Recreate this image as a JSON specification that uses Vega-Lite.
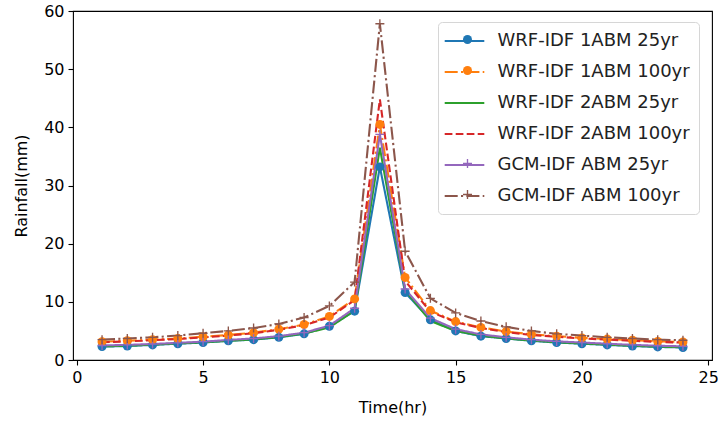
{
  "$schema": "https://vega.github.io/schema/vega-lite/v6.json",
  "width": 639,
  "height": 349,
  "autosize": "none",
  "padding": {"left": 73, "top": 11, "right": 11, "bottom": 63},
  "background": "white",
  "config": {
    "font": "DejaVu Sans",
    "view": {"stroke": "black", "strokeWidth": 1.1},
    "axis": {"domain": false, "grid": false, "tickColor": "black", "tickSize": 5, "tickWidth": 1.1, "labelColor": "black", "labelFontSize": 16, "labelPadding": 4, "titleFontSize": 16, "titleFontWeight": "normal", "titleColor": "black", "labelFont": "DejaVu Sans", "titleFont": "DejaVu Sans"}
  },
  "data": {"values": [
    {"t":1,"s":"WRF-IDF 1ABM 25yr","v":2.3},{"t":2,"s":"WRF-IDF 1ABM 25yr","v":2.4},{"t":3,"s":"WRF-IDF 1ABM 25yr","v":2.6},{"t":4,"s":"WRF-IDF 1ABM 25yr","v":2.8},{"t":5,"s":"WRF-IDF 1ABM 25yr","v":3.0},{"t":6,"s":"WRF-IDF 1ABM 25yr","v":3.3},{"t":7,"s":"WRF-IDF 1ABM 25yr","v":3.5},{"t":8,"s":"WRF-IDF 1ABM 25yr","v":3.9},{"t":9,"s":"WRF-IDF 1ABM 25yr","v":4.5},{"t":10,"s":"WRF-IDF 1ABM 25yr","v":5.8},{"t":11,"s":"WRF-IDF 1ABM 25yr","v":8.4},{"t":12,"s":"WRF-IDF 1ABM 25yr","v":33.2},{"t":13,"s":"WRF-IDF 1ABM 25yr","v":11.6},{"t":14,"s":"WRF-IDF 1ABM 25yr","v":6.9},{"t":15,"s":"WRF-IDF 1ABM 25yr","v":5.0},{"t":16,"s":"WRF-IDF 1ABM 25yr","v":4.1},{"t":17,"s":"WRF-IDF 1ABM 25yr","v":3.7},{"t":18,"s":"WRF-IDF 1ABM 25yr","v":3.3},{"t":19,"s":"WRF-IDF 1ABM 25yr","v":3.0},{"t":20,"s":"WRF-IDF 1ABM 25yr","v":2.8},{"t":21,"s":"WRF-IDF 1ABM 25yr","v":2.6},{"t":22,"s":"WRF-IDF 1ABM 25yr","v":2.4},{"t":23,"s":"WRF-IDF 1ABM 25yr","v":2.25},{"t":24,"s":"WRF-IDF 1ABM 25yr","v":2.15},
    {"t":1,"s":"WRF-IDF 1ABM 100yr","v":3.15},{"t":2,"s":"WRF-IDF 1ABM 100yr","v":3.3},{"t":3,"s":"WRF-IDF 1ABM 100yr","v":3.5},{"t":4,"s":"WRF-IDF 1ABM 100yr","v":3.7},{"t":5,"s":"WRF-IDF 1ABM 100yr","v":4.0},{"t":6,"s":"WRF-IDF 1ABM 100yr","v":4.3},{"t":7,"s":"WRF-IDF 1ABM 100yr","v":4.7},{"t":8,"s":"WRF-IDF 1ABM 100yr","v":5.3},{"t":9,"s":"WRF-IDF 1ABM 100yr","v":6.1},{"t":10,"s":"WRF-IDF 1ABM 100yr","v":7.5},{"t":11,"s":"WRF-IDF 1ABM 100yr","v":10.5},{"t":12,"s":"WRF-IDF 1ABM 100yr","v":40.5},{"t":13,"s":"WRF-IDF 1ABM 100yr","v":14.2},{"t":14,"s":"WRF-IDF 1ABM 100yr","v":8.5},{"t":15,"s":"WRF-IDF 1ABM 100yr","v":6.6},{"t":16,"s":"WRF-IDF 1ABM 100yr","v":5.6},{"t":17,"s":"WRF-IDF 1ABM 100yr","v":4.9},{"t":18,"s":"WRF-IDF 1ABM 100yr","v":4.4},{"t":19,"s":"WRF-IDF 1ABM 100yr","v":4.1},{"t":20,"s":"WRF-IDF 1ABM 100yr","v":3.8},{"t":21,"s":"WRF-IDF 1ABM 100yr","v":3.6},{"t":22,"s":"WRF-IDF 1ABM 100yr","v":3.4},{"t":23,"s":"WRF-IDF 1ABM 100yr","v":3.2},{"t":24,"s":"WRF-IDF 1ABM 100yr","v":3.1},
    {"t":1,"s":"WRF-IDF 2ABM 25yr","v":2.35},{"t":2,"s":"WRF-IDF 2ABM 25yr","v":2.45},{"t":3,"s":"WRF-IDF 2ABM 25yr","v":2.65},{"t":4,"s":"WRF-IDF 2ABM 25yr","v":2.85},{"t":5,"s":"WRF-IDF 2ABM 25yr","v":3.05},{"t":6,"s":"WRF-IDF 2ABM 25yr","v":3.3},{"t":7,"s":"WRF-IDF 2ABM 25yr","v":3.55},{"t":8,"s":"WRF-IDF 2ABM 25yr","v":3.95},{"t":9,"s":"WRF-IDF 2ABM 25yr","v":4.55},{"t":10,"s":"WRF-IDF 2ABM 25yr","v":5.6},{"t":11,"s":"WRF-IDF 2ABM 25yr","v":8.5},{"t":12,"s":"WRF-IDF 2ABM 25yr","v":36.5},{"t":13,"s":"WRF-IDF 2ABM 25yr","v":12.0},{"t":14,"s":"WRF-IDF 2ABM 25yr","v":6.7},{"t":15,"s":"WRF-IDF 2ABM 25yr","v":5.0},{"t":16,"s":"WRF-IDF 2ABM 25yr","v":4.2},{"t":17,"s":"WRF-IDF 2ABM 25yr","v":3.7},{"t":18,"s":"WRF-IDF 2ABM 25yr","v":3.35},{"t":19,"s":"WRF-IDF 2ABM 25yr","v":3.05},{"t":20,"s":"WRF-IDF 2ABM 25yr","v":2.85},{"t":21,"s":"WRF-IDF 2ABM 25yr","v":2.65},{"t":22,"s":"WRF-IDF 2ABM 25yr","v":2.45},{"t":23,"s":"WRF-IDF 2ABM 25yr","v":2.3},{"t":24,"s":"WRF-IDF 2ABM 25yr","v":2.2},
    {"t":1,"s":"WRF-IDF 2ABM 100yr","v":3.05},{"t":2,"s":"WRF-IDF 2ABM 100yr","v":3.2},{"t":3,"s":"WRF-IDF 2ABM 100yr","v":3.4},{"t":4,"s":"WRF-IDF 2ABM 100yr","v":3.6},{"t":5,"s":"WRF-IDF 2ABM 100yr","v":3.9},{"t":6,"s":"WRF-IDF 2ABM 100yr","v":4.2},{"t":7,"s":"WRF-IDF 2ABM 100yr","v":4.6},{"t":8,"s":"WRF-IDF 2ABM 100yr","v":5.2},{"t":9,"s":"WRF-IDF 2ABM 100yr","v":6.0},{"t":10,"s":"WRF-IDF 2ABM 100yr","v":7.3},{"t":11,"s":"WRF-IDF 2ABM 100yr","v":10.3},{"t":12,"s":"WRF-IDF 2ABM 100yr","v":44.8},{"t":13,"s":"WRF-IDF 2ABM 100yr","v":13.6},{"t":14,"s":"WRF-IDF 2ABM 100yr","v":8.3},{"t":15,"s":"WRF-IDF 2ABM 100yr","v":6.5},{"t":16,"s":"WRF-IDF 2ABM 100yr","v":5.5},{"t":17,"s":"WRF-IDF 2ABM 100yr","v":4.8},{"t":18,"s":"WRF-IDF 2ABM 100yr","v":4.3},{"t":19,"s":"WRF-IDF 2ABM 100yr","v":4.0},{"t":20,"s":"WRF-IDF 2ABM 100yr","v":3.7},{"t":21,"s":"WRF-IDF 2ABM 100yr","v":3.5},{"t":22,"s":"WRF-IDF 2ABM 100yr","v":3.3},{"t":23,"s":"WRF-IDF 2ABM 100yr","v":3.1},{"t":24,"s":"WRF-IDF 2ABM 100yr","v":3.0},
    {"t":1,"s":"GCM-IDF ABM 25yr","v":2.5},{"t":2,"s":"GCM-IDF ABM 25yr","v":2.6},{"t":3,"s":"GCM-IDF ABM 25yr","v":2.75},{"t":4,"s":"GCM-IDF ABM 25yr","v":2.95},{"t":5,"s":"GCM-IDF ABM 25yr","v":3.15},{"t":6,"s":"GCM-IDF ABM 25yr","v":3.45},{"t":7,"s":"GCM-IDF ABM 25yr","v":3.7},{"t":8,"s":"GCM-IDF ABM 25yr","v":4.1},{"t":9,"s":"GCM-IDF ABM 25yr","v":4.7},{"t":10,"s":"GCM-IDF ABM 25yr","v":5.9},{"t":11,"s":"GCM-IDF ABM 25yr","v":8.9},{"t":12,"s":"GCM-IDF ABM 25yr","v":38.8},{"t":13,"s":"GCM-IDF ABM 25yr","v":12.2},{"t":14,"s":"GCM-IDF ABM 25yr","v":7.2},{"t":15,"s":"GCM-IDF ABM 25yr","v":5.3},{"t":16,"s":"GCM-IDF ABM 25yr","v":4.4},{"t":17,"s":"GCM-IDF ABM 25yr","v":3.9},{"t":18,"s":"GCM-IDF ABM 25yr","v":3.5},{"t":19,"s":"GCM-IDF ABM 25yr","v":3.2},{"t":20,"s":"GCM-IDF ABM 25yr","v":3.0},{"t":21,"s":"GCM-IDF ABM 25yr","v":2.8},{"t":22,"s":"GCM-IDF ABM 25yr","v":2.6},{"t":23,"s":"GCM-IDF ABM 25yr","v":2.45},{"t":24,"s":"GCM-IDF ABM 25yr","v":2.35},
    {"t":1,"s":"GCM-IDF ABM 100yr","v":3.5},{"t":2,"s":"GCM-IDF ABM 100yr","v":3.7},{"t":3,"s":"GCM-IDF ABM 100yr","v":3.9},{"t":4,"s":"GCM-IDF ABM 100yr","v":4.2},{"t":5,"s":"GCM-IDF ABM 100yr","v":4.6},{"t":6,"s":"GCM-IDF ABM 100yr","v":5.0},{"t":7,"s":"GCM-IDF ABM 100yr","v":5.5},{"t":8,"s":"GCM-IDF ABM 100yr","v":6.2},{"t":9,"s":"GCM-IDF ABM 100yr","v":7.3},{"t":10,"s":"GCM-IDF ABM 100yr","v":9.3},{"t":11,"s":"GCM-IDF ABM 100yr","v":13.4},{"t":12,"s":"GCM-IDF ABM 100yr","v":57.8},{"t":13,"s":"GCM-IDF ABM 100yr","v":18.7},{"t":14,"s":"GCM-IDF ABM 100yr","v":10.6},{"t":15,"s":"GCM-IDF ABM 100yr","v":8.1},{"t":16,"s":"GCM-IDF ABM 100yr","v":6.7},{"t":17,"s":"GCM-IDF ABM 100yr","v":5.7},{"t":18,"s":"GCM-IDF ABM 100yr","v":5.0},{"t":19,"s":"GCM-IDF ABM 100yr","v":4.5},{"t":20,"s":"GCM-IDF ABM 100yr","v":4.2},{"t":21,"s":"GCM-IDF ABM 100yr","v":3.9},{"t":22,"s":"GCM-IDF ABM 100yr","v":3.7},{"t":23,"s":"GCM-IDF ABM 100yr","v":3.5},{"t":24,"s":"GCM-IDF ABM 100yr","v":3.4}
  ]},
  "encoding": {
    "x": {"field": "t", "type": "quantitative", "title": "Time(hr)", "scale": {"domain": [-0.15, 25.15], "nice": false, "zero": false}, "axis": {"values": [0, 5, 10, 15, 20, 25], "titlePadding": 14}},
    "y": {"field": "v", "type": "quantitative", "title": "Rainfall(mm)", "scale": {"domain": [0, 60], "nice": false}, "axis": {"values": [0, 10, 20, 30, 40, 50, 60], "titlePadding": 14}}
  },
  "layer": [
    {
      "mark": {"type": "line", "strokeWidth": 2.1, "clip": true},
      "encoding": {
        "color": {"field": "s", "type": "nominal",
          "scale": {"domain": ["WRF-IDF 1ABM 25yr", "WRF-IDF 1ABM 100yr", "WRF-IDF 2ABM 25yr", "WRF-IDF 2ABM 100yr", "GCM-IDF ABM 25yr", "GCM-IDF ABM 100yr"],
                    "range": ["#1f77b4", "#ff7f0e", "#2ca02c", "#d62728", "#9467bd", "#8c564b"]},
          "legend": {"title": null, "orient": "none", "legendX": 365, "legendY": 11, "padding": 8.5, "symbolType": "M-2.2,0H2.2", "symbolSize": 324, "symbolOffset": 7.5, "symbolFillColor": "transparent", "symbolStrokeWidth": 2.1, "labelOffset": 22.5, "labelFontSize": 18, "labelFont": "DejaVu Sans", "labelColor": "#222", "rowPadding": 11, "strokeColor": "#d6d6d6", "fillColor": "rgba(255,255,255,0.85)", "cornerRadius": 4, "labelLimit": 400}},
        "strokeDash": {"field": "s", "type": "nominal",
          "scale": {"domain": ["WRF-IDF 1ABM 25yr", "WRF-IDF 1ABM 100yr", "WRF-IDF 2ABM 25yr", "WRF-IDF 2ABM 100yr", "GCM-IDF ABM 25yr", "GCM-IDF ABM 100yr"],
                    "range": [[1, 0], [13, 3.3, 2.1, 3.3], [1, 0], [7.7, 3.3], [1, 0], [13, 3.3, 2.1, 3.3]]},
          "legend": {"title": null, "orient": "none", "legendX": 365, "legendY": 11}}
      }
    },
    {
      "mark": {"type": "point", "filled": true, "opacity": 1, "size": 81, "strokeWidth": 0, "clip": true},
      "encoding": {
        "fill": {"field": "s", "type": "nominal",
          "scale": {"domain": ["WRF-IDF 1ABM 25yr", "WRF-IDF 1ABM 100yr", "WRF-IDF 2ABM 25yr", "WRF-IDF 2ABM 100yr", "GCM-IDF ABM 25yr", "GCM-IDF ABM 100yr", "-"],
                    "range": ["#1f77b4", "#ff7f0e", "#2ca02c", "#d62728", "#9467bd", "#8c564b", "#000000"]},
          "legend": {"title": null, "orient": "none", "legendX": 377, "legendY": 11, "values": ["WRF-IDF 1ABM 25yr", "WRF-IDF 1ABM 100yr", "WRF-IDF 2ABM 25yr", "WRF-IDF 2ABM 100yr", "GCM-IDF ABM 25yr", "GCM-IDF ABM 100yr"], "padding": 8.5, "symbolSize": 81, "labelOffset": 14, "labelFontSize": 18, "labelExpr": "''", "rowPadding": 13, "symbolStrokeWidth": 0}},
        "shape": {"field": "s", "type": "nominal",
          "scale": {"domain": ["WRF-IDF 1ABM 25yr", "WRF-IDF 1ABM 100yr", "WRF-IDF 2ABM 25yr", "WRF-IDF 2ABM 100yr", "GCM-IDF ABM 25yr", "GCM-IDF ABM 100yr", "-"],
                    "range": ["circle", "circle", "M0,0", "M0,0", "M-1,-0.15H-0.15V-1H0.15V-0.15H1V0.15H0.15V1H-0.15V0.15H-1Z", "M-1,-0.15H-0.15V-1H0.15V-0.15H1V0.15H0.15V1H-0.15V0.15H-1Z", "circle"]},
          "legend": {"title": null, "orient": "none", "legendX": 377, "legendY": 11, "values": ["WRF-IDF 1ABM 25yr", "WRF-IDF 1ABM 100yr", "WRF-IDF 2ABM 25yr", "WRF-IDF 2ABM 100yr", "GCM-IDF ABM 25yr", "GCM-IDF ABM 100yr"], "padding": 8.5, "symbolSize": 81, "labelOffset": 14, "labelFontSize": 18, "labelExpr": "''", "rowPadding": 13, "symbolStrokeWidth": 0}}
      }
    }
  ]
}
